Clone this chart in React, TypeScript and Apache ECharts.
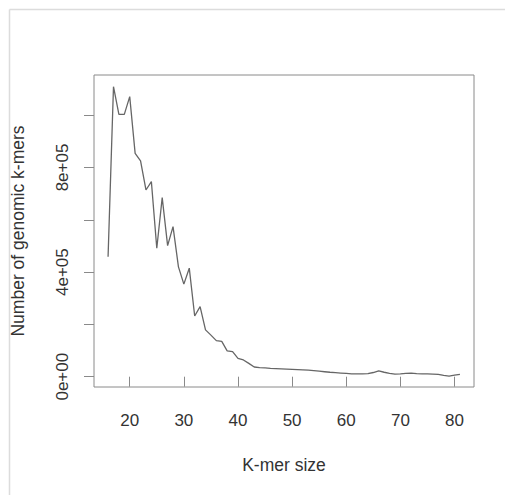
import React, { useEffect, useRef } from "react";
import * as echarts from "echarts";

const kmerSizes = [
  16, 17, 18, 19, 20, 21, 22, 23, 24, 25, 26, 27, 28, 29, 30, 31, 32, 33, 34, 35, 36, 37, 38, 39, 40,
  41, 42, 43, 44, 45, 46, 47, 48, 49, 50, 51, 52, 53, 54, 55, 56, 57, 58, 59, 60, 61, 62, 63, 64, 65,
  66, 67, 68, 69, 70, 71, 72, 73, 74, 75, 76, 77, 78, 79, 80, 81,
];
const kmerCounts = [
  459000, 1109000, 1003000, 1003000, 1071000, 854000, 825000, 714000, 746000, 491000,
  685000, 501000, 574000, 420000, 354000, 415000, 232000, 268000, 179000, 159000,
  138000, 135000, 99000, 96000, 70000, 64000, 51000, 37000, 35000, 33500,
  32000, 31000, 30000, 29000, 28000, 27000, 26000, 25000, 23000, 21000,
  19000, 17000, 15500, 14000, 12500, 11000, 10500, 11000, 12000, 16000,
  22000, 17000, 13000, 10000, 11000, 12500, 14000, 11500, 11000, 10500,
  10000, 9000, 5000, 2000, 6000, 9000,
];
const xTickValues = [20, 30, 40, 50, 60, 70, 80];
const yTickValues = [0, 200000, 400000, 600000, 800000, 1000000];
const yLabelValues = [0, 400000, 800000];
const yLabelTexts: Record<number, string> = { 0: "0e+00", 400000: "4e+05", 800000: "8e+05" };

const xTitle = "K-mer size";
const yTitle = "Number of genomic k-mers";

export default function App() {
  const ref = useRef<HTMLDivElement>(null);
  useEffect(() => {
    if (!ref.current) return;
    const chart = echarts.init(ref.current, undefined, { renderer: "svg" });
    const font = "'Liberation Sans', Arial, Helvetica, sans-serif";
    const textColor = "#333";
    const boxColor = "#8a8a8a";
    chart.setOption({
      animation: false,
      backgroundColor: "#fff",
      textStyle: { fontFamily: font },
      grid: {
        left: 94,
        top: 75,
        right: 31,
        bottom: 108,
        show: true,
        borderColor: boxColor,
        borderWidth: 1,
        backgroundColor: "transparent",
      },
      xAxis: {
        type: "value",
        min: 13.4,
        max: 83.6,
        name: xTitle,
        nameLocation: "middle",
        nameGap: 69,
        nameTextStyle: { fontSize: 17.5, color: textColor, fontFamily: font },
        axisLine: { show: false },
        splitLine: { show: false },
        axisTick: {
          show: true,
          length: 10,
          customValues: xTickValues,
          lineStyle: { color: boxColor, width: 1 },
        },
        axisLabel: {
          customValues: xTickValues,
          fontSize: 17,
          color: textColor,
          fontFamily: font,
          margin: 25,
        },
      },
      yAxis: {
        type: "value",
        min: -39400,
        max: 1153700,
        name: yTitle,
        nameLocation: "middle",
        nameRotate: 90,
        nameGap: 67,
        nameTextStyle: { fontSize: 17.5, color: textColor, fontFamily: font },
        axisLine: { show: false },
        splitLine: { show: false },
        axisTick: {
          show: true,
          length: 10,
          customValues: yTickValues,
          lineStyle: { color: boxColor, width: 1 },
        },
        axisLabel: {
          customValues: yLabelValues,
          rotate: 90,
          fontSize: 17,
          color: textColor,
          fontFamily: font,
          margin: 23.5,
          formatter: (v: number) => yLabelTexts[v] ?? "",
        },
      },
      graphic: [
        {
          type: "line",
          shape: { x1: 9.5, y1: 9.5, x2: 505, y2: 9.5 },
          style: { stroke: "#dcdcdc", lineWidth: 1.5 },
          silent: true,
        },
        {
          type: "line",
          shape: { x1: 9.5, y1: 9.5, x2: 9.5, y2: 495 },
          style: { stroke: "#dcdcdc", lineWidth: 1.5 },
          silent: true,
        },
      ],
      series: [
        {
          type: "line",
          data: kmerSizes.map((k, i) => [k, kmerCounts[i]]),
          showSymbol: false,
          symbol: "none",
          lineStyle: { color: "#666", width: 1.3 },
          clip: true,
        },
      ],
    });
    return () => chart.dispose();
  }, []);
  return (
    <div
      ref={ref}
      style={{ position: "absolute", left: 0, top: 0, width: 505, height: 495 }}
    />
  );
}
